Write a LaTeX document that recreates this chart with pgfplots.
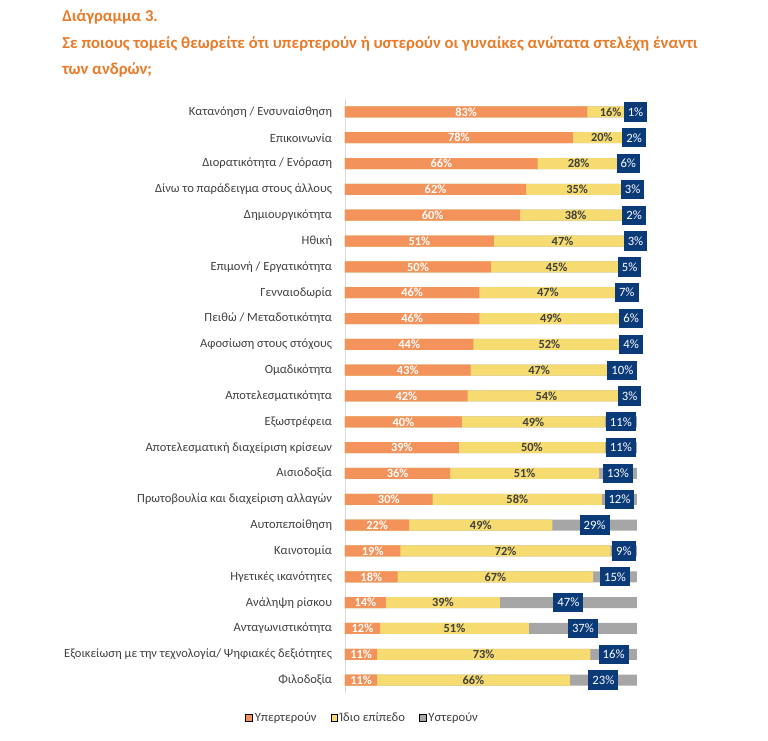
\documentclass[border=0pt]{standalone}
\usepackage{fontspec}
\setmainfont{Carlito}
\usepackage{pgfplots}
\pgfplotsset{compat=1.18}
\usepackage{pgfplotstable}

\definecolor{cOr}{HTML}{F3925A}
\definecolor{cYe}{HTML}{F6DC70}
\definecolor{cGr}{HTML}{A6A6A6}
\definecolor{cNavy}{HTML}{0B3A79}
\definecolor{cTitle}{HTML}{E97A28}
\definecolor{cTxt}{HTML}{404040}

% a = Υπερτερούν, b = Ίδιο επίπεδο, c = Υστερούν
\pgfplotstableread{
idx a b c
0 83 16 1
1 78 20 2
2 66 28 6
3 62 35 3
4 60 38 2
5 51 47 3
6 50 45 5
7 46 47 7
8 46 49 6
9 44 52 4
10 43 47 10
11 42 54 3
12 40 49 11
13 39 50 11
14 36 51 13
15 30 58 12
16 22 49 29
17 19 72 9
18 18 67 15
19 14 39 47
20 12 51 37
21 11 73 16
22 11 66 23
}\data

\begin{document}
\begin{tikzpicture}[x=0.75pt,y=0.75pt]
\useasboundingbox (0,0) rectangle (768,741);
\begin{scope}[font=\bfseries\fontsize{12.5}{14}\selectfont, text=cTitle]
\node[anchor=base west, inner sep=0pt] at (62,719) {Διάγραμμα 3.};
\node[anchor=base west, inner sep=0pt] at (62,692) {Σε ποιους τομείς θεωρείτε ότι υπερτερούν ή υστερούν οι γυναίκες ανώτατα στελέχη έναντι};
\node[anchor=base west, inner sep=0pt] at (62,666) {των ανδρών;};
\end{scope}
\begin{axis}[
    at={(258.75pt,36pt)}, anchor=south west,
    scale only axis, width=219pt, height=445.5pt,
    xmin=0, xmax=100, ymin=-0.5, ymax=22.5,
    y dir=reverse, clip=false,
    axis x line=none, axis y line=left,
    y axis line style={-, draw=gray!30},
    ytick={0,...,22}, major tick length=0pt,
    yticklabels={{Κατανόηση / Ενσυναίσθηση},{Επικοινωνία},{Διορατικότητα / Ενόραση},{Δίνω το παράδειγμα στους άλλους},{Δημιουργικότητα},{Ηθική},{Επιμονή / Εργατικότητα},{Γενναιοδωρία},{Πειθώ / Μεταδοτικότητα},{Αφοσίωση στους στόχους},{Ομαδικότητα},{Αποτελεσματικότητα},{Εξωστρέφεια},{Αποτελεσματική διαχείριση κρίσεων},{Αισιοδοξία},{Πρωτοβουλία και διαχείριση αλλαγών},{Αυτοπεποίθηση},{Καινοτομία},{Ηγετικές ικανότητες},{Ανάληψη ρίσκου},{Ανταγωνιστικότητα},{Εξοικείωση με την τεχνολογία/ Ψηφιακές δεξιότητες},{Φιλοδοξία}},
    yticklabel style={font=\fontsize{9.4}{10}\selectfont, text=cTxt, inner sep=0pt, xshift=-9.5pt},
    /pgf/number format/assume math mode=true,
    bar width=8.25pt,
    legend style={at={(-0.342,-0.042)}, anchor=west, draw=none, inner sep=0pt,
        font=\fontsize{9.5}{10}\selectfont, text=cTxt,
        nodes={inner xsep=1.5pt},
        legend columns=3, /tikz/every even column/.append style={column sep=9pt}},
    legend image code/.code={\fill[#1] (0pt,-2.6pt) rectangle (5.2pt,2.6pt);},
    bar lbl/.style={only marks, mark=*, mark size=0pt, mark options={draw=none, fill=none},
        point meta=explicit, nodes near coords={\pgfmathprintnumber{\pgfplotspointmeta}\%},
        forget plot},
]
% bars: drawn from 0 to the cumulative sums, longest first
\addplot[xbar, bar shift=0pt, draw=none, fill=cGr, forget plot] table[x expr=\thisrow{a}+\thisrow{b}+\thisrow{c}, y=idx] {\data};
\addplot[xbar, bar shift=0pt, draw=none, fill=cYe, forget plot] table[x expr=\thisrow{a}+\thisrow{b}, y=idx] {\data};
\addplot[xbar, bar shift=0pt, draw=none, fill=cOr, forget plot] table[x=a, y=idx] {\data};
% value labels in the middle of each segment
\addplot[bar lbl, nodes near coords style={anchor=center, font=\bfseries\fontsize{9.3}{10}\selectfont, text=white, inner sep=0pt}]
    table[x expr=\thisrow{a}/2, y=idx, meta=a] {\data};
\addplot[bar lbl, nodes near coords style={anchor=center, font=\bfseries\fontsize{9.3}{10}\selectfont, text=cTxt, inner sep=0pt}]
    table[x expr=\thisrow{a}+\thisrow{b}/2, y=idx, meta=b] {\data};
\addplot[bar lbl, nodes near coords style={anchor=center, font=\fontsize{9.5}{10}\selectfont, text=white, fill=cNavy, inner xsep=3pt, inner ysep=0pt, minimum height=14.5pt}]
    table[x expr=\thisrow{a}+\thisrow{b}+\thisrow{c}/2, y=idx, meta=c] {\data};
\addlegendimage{fill=cOr}
\addlegendimage{fill=cYe}
\addlegendimage{fill=cGr}
\legend{Υπερτερούν, Ίδιο επίπεδο, Υστερούν}
\end{axis}
\end{tikzpicture}
\end{document}
